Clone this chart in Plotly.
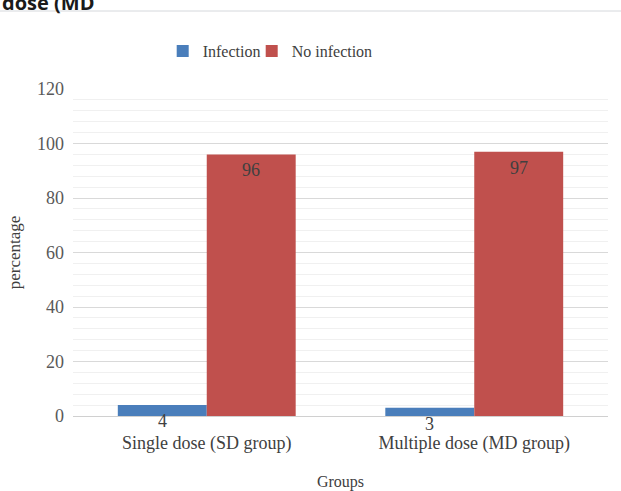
import plotly.graph_objects as go

groups = ["Single dose (SD group)", "Multiple dose (MD group)"]
infection = [4, 3]
no_infection = [96, 97]
y_ticks = [0, 20, 40, 60, 80, 100, 120]

FONT = "Liberation Serif"
BARGAP = 0.335
half = (1 - BARGAP) / 4  # offset of each bar centre from category centre

fig = go.Figure()
fig.add_trace(go.Bar(name="Infection", x=groups, y=infection, marker_color="#4A7EBB",
                     marker_line_width=0))
fig.add_trace(go.Bar(name="No infection", x=groups, y=no_infection, marker_color="#C0504D",
                     marker_line_width=0))
# invisible spacer entry so the last legend text is not clipped
fig.add_trace(go.Scatter(x=[None], y=[None], mode="lines", line=dict(width=0),
                         name="", hoverinfo="skip"))

# data labels
for i, g in enumerate(groups):
    for vals, off in ((infection, -half), (no_infection, half)):
        fig.add_annotation(x=i + off, y=vals[i], text=str(vals[i]), showarrow=False,
                           xref="x", yref="y", yanchor="top", yshift=-4,
                           font=dict(family=FONT, size=18, color="#404040"))

# title fragment at top edge
fig.add_annotation(x=0, y=1.2171, xref="paper", yref="paper", text="<b>dose (MD</b>",
                   showarrow=False, xanchor="left", yanchor="bottom",
                   xshift=-73,
                   font=dict(family="Open Sans", size=20, color="#1a1a1a"))
fig.add_shape(type="line", xref="paper", yref="paper", x0=-0.2, x1=1.1, y0=1.2385, y1=1.2385,
              line=dict(color="#d5d8dc", width=1), layer="below")

fig.update_layout(
    width=621, height=491,
    margin=dict(l=73, r=13, t=89, b=75, autoexpand=False),
    paper_bgcolor="white", plot_bgcolor="white",
    barmode="group", bargap=BARGAP, bargroupgap=0,
    font=dict(family=FONT, size=17, color="#595959"),
    legend=dict(orientation="h", x=0.262, xanchor="left", xref="container",
                y=0.896, yanchor="middle", yref="container",
                entrywidth=44, entrywidthmode="pixels",
                font=dict(family=FONT, size=16, color="#404040"),
                tracegroupgap=0),
    xaxis=dict(type="category", range=[-0.5, 1.5], showgrid=False, showline=False,
               ticks="", ticklabelstandoff=14, automargin=False,
               tickfont=dict(family=FONT, size=18, color="#404040"),
               title=dict(text="Groups", font=dict(family=FONT, size=16, color="#404040"),
                          standoff=22)),
    yaxis=dict(range=[0, 120], tickvals=y_ticks, showline=False, zeroline=True,
               zerolinecolor="#d0d0d0", zerolinewidth=1, automargin=False,
               gridcolor="#d9d9d9", gridwidth=1,
               minor=dict(dtick=4, showgrid=True, gridcolor="#f0f0f0", gridwidth=1),
               ticklabelstandoff=8,
               tickfont=dict(family=FONT, size=18, color="#595959"),
               title=dict(text="percentage", font=dict(family=FONT, size=17, color="#404040"),
                          standoff=12)),
)
fig.write_html("out.html", config={"displayModeBar": False},
               post_script="document.body.style.margin='0';")
